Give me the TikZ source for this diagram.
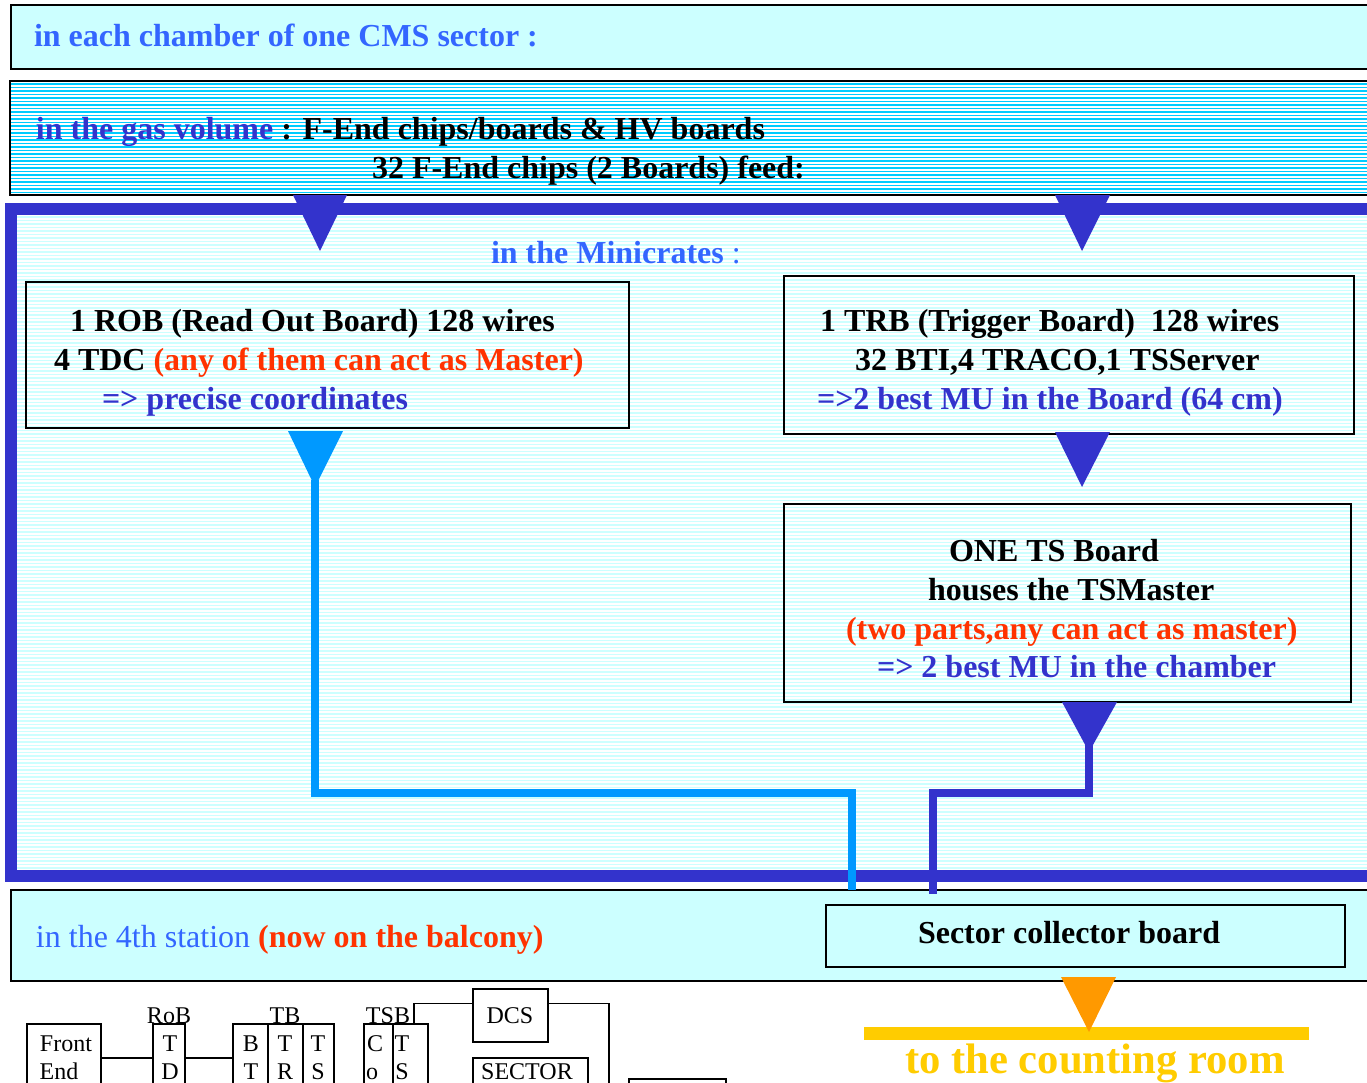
\documentclass[tikz,border=0pt]{standalone}
\usepackage{fontspec}
\setmainfont{Liberation Serif}
\definecolor{pale}{HTML}{CCFFFF}
\definecolor{stripe}{HTML}{00CCFF}
\definecolor{navy}{HTML}{3333CC}
\definecolor{sky}{HTML}{0099FF}
\definecolor{midblue}{HTML}{3366FF}
\definecolor{hot}{HTML}{FF3300}
\definecolor{amber}{HTML}{FF9900}
\definecolor{gold}{HTML}{FFCC00}
\tikzset{
  x=0.75pt,y=-0.75pt,
  panel/.style={draw=black,line width=1.6pt,inner sep=0pt,outer sep=0pt,anchor=north west},
  thin panel/.style={draw=black,line width=0.9pt,inner sep=0pt,outer sep=0pt,anchor=north west},
  txt/.style={anchor=base west,inner sep=0pt,outer sep=0pt,font=\fontsize{24}{24}\selectfont\bfseries},
  small/.style={anchor=base,inner sep=0pt,outer sep=0pt,font=\fontsize{18}{18}\selectfont},
  wire/.style={line width=0.9pt,draw=black},
  fat/.style={line width=6pt},
}
\newcommand{\mybox}[5][panel]{\node[#1,minimum width=#4*0.75pt,minimum height=#5*0.75pt] (#2) at (#3) {};}
\begin{document}
\begin{tikzpicture}
\useasboundingbox (0,0) rectangle (1367,1082);
\clip (0,0) rectangle (1367,1082);
% minicrate stripes
\fill[white] (0,0) rectangle (1367,1082);
\foreach \s in {216,219.5,...,870} {\fill[pale] (17,\s) rectangle (1367,\s+1.9);}
% top header
\path[fill=pale] (11,5) rectangle (1400,69);
\mybox{head}{11,5}{1400}{64}
\node[txt,text=midblue] (headt) at (34,46) {in each chamber of one CMS sector :};
% gas volume
\foreach \s in {83,86.5,...,193} {\fill[stripe] (10,\s) rectangle (1367,\s+1.5);}
\mybox{gas}{10,81}{1400}{114}
\node[txt,text=navy] (gast) at (36,139) {in the gas volume \textcolor{black}{: F-End chips/boards \& HV boards}};
\node[txt] (gast2) at (372,178) {32 F-End chips (2 Boards) feed:};
% blue frame
\coordinate (fTR) at (1380,208.5);
\coordinate (fTL) at (11,208.5);
\coordinate (fBL) at (11,876);
\coordinate (fBR) at (1380,876);
\draw[navy,line width=9pt,line join=miter] (fTR) -- (fTL) -- (fBL) -- (fBR);
% minicrates heading
\node[txt,text=midblue] (mini) at (491,263) {in the Minicrates \textmd{:}};
% ROB
\mybox{rob}{26,282}{603}{146}
\node[txt] (rob1) at (70,331) {1 ROB (Read Out Board) 128 wires};
\node[txt] (rob2) at (54,370) {4 TDC \textcolor{hot}{(any of them can act as Master)}};
\node[txt,text=navy] (rob3) at (102,409) {=> precise coordinates};
% TRB
\mybox{trb}{784,276}{570}{158}
\node[txt] (trb1) at (820,331) {1 TRB (Trigger Board)\ \ 128 wires};
\node[txt] (trb2) at (855,370) {32 BTI,4 TRACO,1 TSServer};
\node[txt,text=navy] (trb3) at (817,409) {=>2 best MU in the Board (64 cm)};
% TS
\mybox{ts}{784,504}{567}{198}
\node[txt] (ts1) at (949,561) {ONE TS Board};
\node[txt] (ts2) at (928,600) {houses the TSMaster};
\node[txt,text=hot] (ts3) at (846,639) {(two parts,any can act as master)};
\node[txt,text=navy] (ts4) at (877,677) {=> 2 best MU in the chamber};
% 4th station
\path[fill=pale] (11,890) rectangle (1400,981);
\mybox{st}{11,890}{1400}{91}
\node[txt,text=midblue] (stt) at (36,947) {\textmd{in the 4th station} \textcolor{hot}{(now on the balcony)}};
\mybox[thin panel]{sc}{826,905}{519}{62}
\node[txt] (sct) at (918,943) {Sector collector board};
% connectors
\coordinate (a1) at (315,480);
\coordinate (a2) at (315,793);
\coordinate (a3) at (851.5,793);
\draw[sky,fat,line join=miter] (a1) -- (a2) -- (a3) -- (a3 |- st.north);
\coordinate (b1) at (1089,745);
\coordinate (b2) at (1089,793);
\coordinate (b3) at (933,793);
\coordinate (b4) at (933,894);
\draw[navy,fat,line join=miter] (b1) -- (b2) -- (b3) -- (b4);
% triangles
\fill[navy] (293,195) -- (347,195) -- (320,251) -- cycle;
\fill[navy] (1055,195) -- (1110,195) -- (1082,251) -- cycle;
\fill[sky] (288,431) -- (343,431) -- (315,487) -- cycle;
\fill[navy] (1055,432) -- (1110,432) -- (1082,487) -- cycle;
\fill[navy] (1062,702) -- (1117,702) -- (1089,752) -- cycle;
% counting room
\node[fill=gold,inner sep=0pt,outer sep=0pt,minimum width=445*0.75pt,minimum height=13*0.75pt,anchor=north west] (bar) at (864,1027) {};
\fill[amber] (1061,977) -- (1116,977) -- (1089,1032) -- cycle;
\node[txt,text=gold,font=\fontsize{32}{32}\selectfont\bfseries] (room) at (905,1073) {to the counting room};
% lower block diagram
\mybox[thin panel]{fe}{27,1024}{74}{100}
\mybox[thin panel]{td}{153,1024}{32}{100}
\mybox[thin panel]{bt}{233,1024}{35}{100}
\mybox[thin panel]{tr}{268,1024}{35}{100}
\mybox[thin panel]{tsb}{303,1024}{31}{100}
\mybox[thin panel]{co}{364,1024}{29}{100}
\mybox[thin panel]{tss}{393,1024}{35}{100}
\mybox[thin panel]{dcs}{473,989}{75}{53}
\mybox[thin panel]{sect}{473,1058}{115}{60}
\mybox[thin panel]{last}{629,1079}{97}{40}
\node[small] (l1) at (169,1023) {RoB};
\node[small] (l2) at (285,1023) {TB};
\node[small] (l3) at (388,1023) {TSB};
\node[small] (t1) at (66,1051) {Front};
\node[small] (t2) at (59,1079) {End};
\node[small] (t3) at (170,1051) {T};
\node[small] (t4) at (170,1079) {D};
\node[small] (t5) at (251,1051) {B};
\node[small] (t6) at (251,1079) {T};
\node[small] (t7) at (285,1051) {T};
\node[small] (t8) at (285,1079) {R};
\node[small] (t9) at (318,1051) {T};
\node[small] (t10) at (318,1079) {S};
\node[small] (t11) at (375,1051) {C};
\node[small] (t12) at (372,1079) {o};
\node[small] (t13) at (402,1051) {T};
\node[small] (t14) at (402,1079) {S};
\node[small] (t15) at (510,1023) {DCS};
\node[small] (t16) at (527,1079) {SECTOR};
\coordinate (j) at (0,1058);
\draw[wire] (fe.east |- j) -- (td.west |- j);
\draw[wire] (td.east |- j) -- (bt.west |- j);
\coordinate (k) at (414,1003.5);
\draw[wire] (tss.north -| k) -- (k) -- (dcs.west |- k);
\coordinate (m) at (609,1003.5);
\coordinate (m2) at (609,1090);
\draw[wire] (dcs.east |- k) -- (m) -- (m2);
\end{tikzpicture}
\end{document}
